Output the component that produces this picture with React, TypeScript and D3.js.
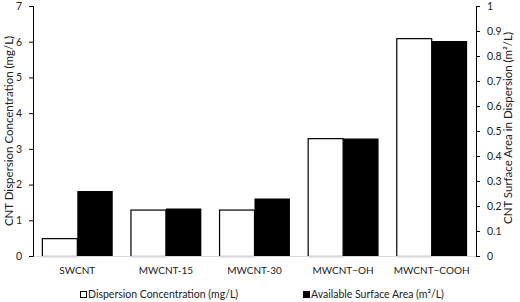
import {useEffect, useRef} from 'react';
import * as d3 from 'd3';

const [W, H] = [520, 302];
const M = {left: 33, right: 44, top: 6, bottom: 46};

const categories = ["SWCNT", "MWCNT-15", "MWCNT-30", "MWCNT\u2212OH", "MWCNT\u2212COOH"];
const concentration = [0.5, 1.3, 1.3, 3.3, 6.1];
const surfaceArea = [0.26, 0.19, 0.23, 0.47, 0.86];
const leftTicks = [0, 1, 2, 3, 4, 5, 6, 7];
const rightTicks = [0, 0.1, 0.2, 0.3, 0.4, 0.5, 0.6, 0.7, 0.8, 0.9, 1];

const FONT = "Lato, 'Open Sans', sans-serif";
const TXT = "#222";

function App() {
    const svg = useRef<SVGSVGElement>(null);

    useEffect(() => {
        if (!svg.current) return;
        const root = d3.select(svg.current);
        root.selectAll("*").remove();

        const x = d3.scaleBand().domain(categories).range([M.left, W - M.right])
            .paddingInner(0.2).paddingOuter(0.1);
        const yL = d3.scaleLinear().domain([0, 7]).range([H - M.bottom, M.top]);
        const yR = d3.scaleLinear().domain([0, 1]).range([H - M.bottom, M.top]);
        const half = x.bandwidth() / 2;

        // white bars (left axis)
        root.append("g").selectAll("rect").data(concentration).enter().append("rect")
            .attr("x", (d, i) => x(categories[i])! + 0.5)
            .attr("y", d => yL(d) + 0.5)
            .attr("width", half - 0.5)
            .attr("height", d => yL(0) - yL(d))
            .attr("fill", "#fff")
            .attr("stroke", "#000")
            .attr("stroke-width", 1.2);

        // black bars (right axis)
        root.append("g").selectAll("rect").data(surfaceArea).enter().append("rect")
            .attr("x", (d, i) => x(categories[i])! + half)
            .attr("y", d => yR(d))
            .attr("width", half)
            .attr("height", d => yR(0) - yR(d))
            .attr("fill", "#000");

        // baseline
        root.append("line")
            .attr("x1", M.left).attr("x2", W - M.right)
            .attr("y1", yL(0) + 0.5).attr("y2", yL(0) + 0.5)
            .attr("stroke", "#d9d9d9").attr("stroke-width", 1);

        const styleAxis = (g: any) => {
            g.select(".domain").attr("stroke", "#000");
            g.selectAll(".tick line").attr("stroke", "#000");
            g.selectAll(".tick text").attr("fill", TXT).style("font-family", FONT).style("font-size", "10.5px");
        };

        root.append("g").attr("transform", `translate(${M.left},0)`)
            .call(d3.axisLeft(yL).tickValues(leftTicks).tickSize(4).tickSizeOuter(4).tickPadding(7).tickFormat(d3.format("d")))
            .call(styleAxis);

        root.append("g").attr("transform", `translate(${W - M.right},0)`)
            .call(d3.axisRight(yR).tickValues(rightTicks).tickSize(4).tickSizeOuter(4).tickPadding(7).tickFormat(d => d === 0 || d === 1 ? String(d) : d3.format(".1f")(d as number)))
            .call(styleAxis);

        // category labels
        root.append("g").selectAll("text").data(categories).enter().append("text")
            .attr("x", d => x(d)! + x.bandwidth() / 2)
            .attr("y", 274)
            .attr("text-anchor", "middle")
            .style("font-family", FONT).style("font-size", "10px")
            .attr("fill", TXT)
            .text(d => d);

        // axis titles
        root.append("text")
            .attr("transform", `translate(13,${(M.top + H - M.bottom) / 2}) rotate(-90)`)
            .attr("text-anchor", "middle")
            .style("font-family", FONT).style("font-size", "11.5px")
            .attr("fill", TXT)
            .text("CNT Dispersion Concentration (mg/L)");

        root.append("text")
            .attr("transform", `translate(512,${(M.top + H - M.bottom) / 2 - 3}) rotate(-90)`)
            .attr("text-anchor", "middle")
            .style("font-family", FONT).style("font-size", "11.5px")
            .attr("fill", TXT)
            .text("CNT Surface Area in Dispersion (m\u00b2/L)");

        // legend
        const legend = [
            {label: "Dispersion Concentration (mg/L)", fill: "#fff", x: 80},
            {label: "Available Surface Area (m\u00b2/L)", fill: "#000", x: 303},
        ];
        const lg = root.append("g").selectAll("g").data(legend).enter().append("g")
            .attr("transform", d => `translate(${d.x},290)`);
        lg.append("rect")
            .attr("x", 0.5).attr("y", 1.5).attr("width", 6).attr("height", 6)
            .attr("fill", d => d.fill).attr("stroke", "#000").attr("stroke-width", 1);
        lg.append("text")
            .attr("x", 8).attr("y", 8)
            .style("font-family", FONT).style("font-size", "10.5px")
            .attr("fill", TXT)
            .text(d => d.label);
    }, []);

    return (
        <svg ref={svg} width={W} height={H}
             style={{position: 'absolute', left: 0, top: 0, background: '#fff'}} />
    );
}

export default App;
